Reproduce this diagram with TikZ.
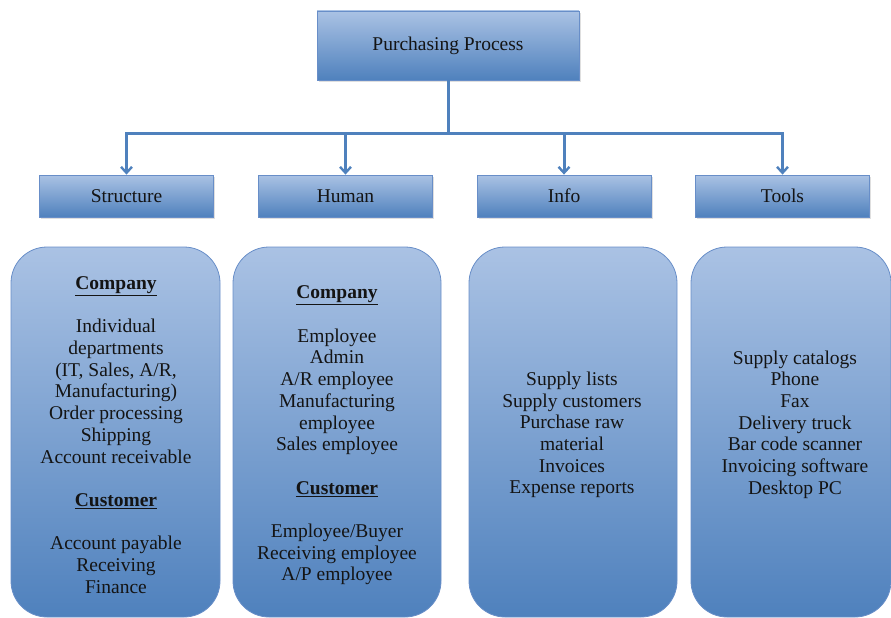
\documentclass[tikz,border=0pt]{standalone}
\usepackage{fontspec}
\setmainfont{Liberation Serif}
\usetikzlibrary{arrows.meta,shadows}
\definecolor{paletop}{RGB}{170,194,228}
\definecolor{deepblue}{RGB}{79,129,189}
\definecolor{edgeblue}{RGB}{104,142,200}
\definecolor{inktext}{RGB}{20,20,20}
\tikzset{
  x=1pt, y=-1pt,
  bluefill/.style={shading=axis, top color=paletop, bottom color=deepblue, draw=edgeblue, line width=0.8pt},
  titlebox/.style={bluefill, rectangle, minimum width=262pt, minimum height=69pt, inner sep=0pt,
    drop shadow={shadow xshift=1.5pt, shadow yshift=-2pt, opacity=0.25}},
  headbox/.style={bluefill, rectangle, minimum width=174pt, minimum height=42pt, inner sep=0pt,
    drop shadow={shadow xshift=1.5pt, shadow yshift=-2pt, opacity=0.25}},
  panel/.style={bluefill, rectangle, rounded corners=36pt, minimum height=370pt, inner sep=0pt},
  paneltext/.style={align=center, text=inktext, font=\fontsize{19.5}{21.7}\selectfont},
  headtext/.style={text=inktext, font=\fontsize{19.5}{22}\selectfont},
  link/.style={draw=deepblue, line width=3pt},
  linkarrow/.style={link, -{Straight Barb[length=6pt,width=11pt,line width=2.4pt]}}
}
\newcommand{\secthead}[1]{\underline{\textbf{#1}}}
\begin{document}
\begin{tikzpicture}
\useasboundingbox (0,0) rectangle (891,618);

% title and category boxes
\node[titlebox, headtext] (top) at (448,45.5) {Purchasing Process};
\node[headbox, headtext] (h1) at (126.5,196) {Structure};
\node[headbox, headtext] (h2) at (345.5,196) {Human};
\node[headbox, headtext] (h3) at (564,196) {Info};
\node[headbox, headtext] (h4) at (782.5,196) {Tools};

% tree connectors
\coordinate (bus) at (448,133);
\draw[link] (top.south) -- (bus);
\draw[linkarrow] (bus) -| (h1.north);
\draw[linkarrow] (bus) -| (h2.north);
\draw[linkarrow] (bus) -| (h3.north);
\draw[linkarrow] (bus) -| (h4.north);

% detail panels
\node[panel, minimum width=209pt] (p1) at (115.5,432) {};
\node[panel, minimum width=208pt] (p2) at (337,432) {};
\node[panel, minimum width=208pt] (p3) at (573,432) {};
\node[panel, minimum width=200pt] (p4) at (791,432) {};

\node[paneltext] (t1) at (116,435) {\secthead{Company}\\[21.7pt]
  Individual\\ departments\\ (IT, Sales, A/R,\\ Manufacturing)\\ Order processing\\ Shipping\\ Account receivable\\[21.7pt]
  \secthead{Customer}\\[21.7pt]
  Account payable\\ Receiving\\ Finance};
\node[paneltext] (t2) at (337,435.5) {\secthead{Company}\\[21.7pt]
  Employee\\ Admin\\ A/R employee\\ Manufacturing\\ employee\\ Sales employee\\[21.7pt]
  \secthead{Customer}\\[21.7pt]
  Employee/Buyer\\ Receiving employee\\ A/P employee};
\node[paneltext] (t3) at (572,435) {Supply lists\\ Supply customers\\ Purchase raw\\ material\\ Invoices\\ Expense reports};
\node[paneltext] (t4) at (795,424.5) {Supply catalogs\\ Phone\\ Fax\\ Delivery truck\\ Bar code scanner\\ Invoicing software\\ Desktop PC};
\end{tikzpicture}
\end{document}
